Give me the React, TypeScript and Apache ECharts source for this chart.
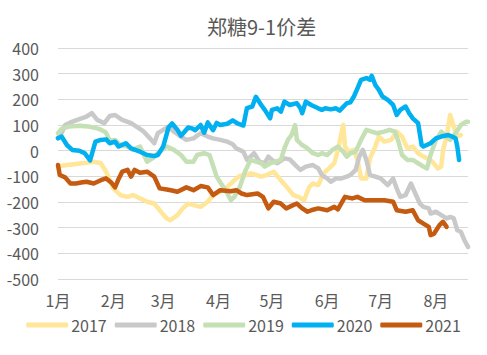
import React, { useEffect, useRef } from "react";
import * as echarts from "echarts";

const monthDays = [0, 31, 59, 90, 120, 151, 181, 212];
const monthLabels = ["1月", "2月", "3月", "4月", "5月", "6月", "7月", "8月"];
const yTicks = { min: -500, max: 400, interval: 100 };
const seriesNames = ["2017", "2018", "2019", "2020", "2021"];
const colors = ["#FFE699", "#C9C9C9", "#C5E0B4", "#00B0F0", "#C55A11"];

const s2017 = [[0,-62],[5,-56],[10,-52],[16,-47],[20,-43],[24,-49],[27,-82],[31,-147],[35,-173],[39,-180],[42,-173],[46,-186],[50,-199],[54,-206],[57,-232],[61,-264],[63,-271],[67,-251],[70,-225],[73,-206],[76,-212],[80,-219],[84,-199],[87,-173],[91,-160],[95,-141],[99,-115],[102,-98],[106,-95],[108,-88],[114,-101],[117,-95],[121,-82],[125,-115],[129,-147],[132,-173],[135,-180],[138,-193],[141,-141],[143,-128],[146,-134],[149,-88],[152,-69],[155,-49],[157,3],[160,100],[161,16],[163,-4],[166,3],[168,-36],[170,-108],[173,-108],[175,-30],[178,16],[180,55],[183,35],[187,42],[190,74],[193,55],[196,9],[199,16],[202,-10],[205,-23],[207,-30],[210,-43],[213,-69],[215,-62],[216,3],[218,55],[220,139],[222,94],[224,55],[226,61]];

const s2018 = [[0,50],[2,68],[4,100],[7,110],[10,118],[16,133],[19,146],[22,120],[26,107],[29,135],[32,139],[36,120],[41,107],[44,94],[48,75],[52,45],[54,29],[56,68],[59,81],[62,94],[65,74],[69,55],[72,42],[76,48],[80,68],[84,55],[87,48],[91,42],[95,35],[98,25],[100,9],[104,-4],[106,-36],[108,-23],[110,-10],[113,-43],[116,-49],[118,-23],[120,-36],[123,-49],[127,-30],[130,-34],[134,-62],[136,-75],[139,-62],[143,-56],[146,-69],[148,-95],[151,-108],[153,-121],[156,-108],[159,-108],[162,-101],[164,-95],[167,-75],[169,-23],[171,3],[173,-36],[175,-95],[178,-101],[181,-108],[185,-134],[188,-108],[190,-147],[192,-180],[195,-173],[198,-128],[200,-160],[203,-206],[205,-219],[208,-225],[209,-245],[212,-238],[215,-251],[218,-264],[220,-258],[222,-264],[224,-310],[226,-316],[228,-349],[230,-375]];

const s2019 = [[0,68],[2,85],[6,94],[12,97],[17,94],[20,90],[23,85],[26,75],[27,69],[29,40],[32,42],[35,22],[39,16],[42,3],[46,16],[50,-43],[53,-30],[56,-10],[61,16],[65,3],[69,-17],[72,-43],[76,-43],[78,-17],[82,-10],[85,-17],[89,-101],[92,-134],[95,-167],[97,-193],[99,-180],[102,-141],[105,-80],[108,-36],[111,-43],[114,-49],[116,-62],[119,-49],[122,-43],[125,-36],[127,9],[129,42],[131,61],[133,100],[134,42],[137,22],[140,9],[143,-10],[146,-17],[148,-10],[151,-17],[154,3],[157,16],[160,-4],[162,-23],[164,-10],[167,-4],[170,42],[173,81],[176,74],[179,68],[183,74],[186,81],[189,74],[191,35],[193,-17],[196,-36],[199,-36],[202,-49],[205,-62],[207,-69],[209,-17],[212,42],[215,74],[218,55],[220,42],[223,68],[226,100],[229,113],[230,113]];

const s2020 = [[0,48],[2,55],[5,22],[8,3],[12,0],[15,-10],[18,-38],[21,35],[24,42],[27,44],[29,29],[32,35],[34,16],[38,29],[41,9],[46,-4],[50,-17],[54,-21],[56,-17],[59,16],[62,90],[64,106],[67,81],[69,58],[71,74],[73,90],[75,87],[77,80],[80,100],[82,70],[84,110],[87,80],[89,108],[91,100],[95,105],[98,118],[101,105],[104,98],[106,166],[109,172],[111,210],[114,178],[116,159],[119,126],[120,159],[123,165],[125,152],[127,191],[130,178],[134,185],[136,165],[137,146],[139,191],[142,178],[146,165],[148,159],[150,165],[153,161],[156,165],[158,156],[162,185],[164,188],[166,211],[168,243],[170,276],[173,283],[175,276],[176,292],[178,256],[180,237],[182,211],[185,198],[188,178],[190,139],[192,159],[195,172],[197,146],[199,126],[202,107],[204,22],[205,16],[209,29],[212,48],[215,55],[219,61],[221,55],[223,48],[224,16],[225,-36]];

const s2021 = [[0,-56],[1,-95],[4,-104],[7,-128],[10,-128],[13,-124],[16,-121],[20,-128],[24,-115],[27,-108],[30,-125],[32,-143],[34,-110],[36,-82],[39,-75],[41,-101],[43,-75],[46,-86],[50,-82],[54,-101],[57,-147],[61,-151],[64,-155],[67,-160],[72,-143],[76,-154],[80,-138],[84,-143],[87,-173],[91,-154],[97,-158],[100,-154],[103,-167],[106,-173],[112,-167],[115,-180],[118,-225],[121,-199],[125,-206],[128,-225],[131,-215],[134,-206],[137,-225],[140,-238],[143,-230],[146,-225],[151,-232],[155,-219],[157,-229],[161,-180],[165,-186],[168,-180],[172,-193],[177,-193],[183,-193],[188,-199],[190,-232],[195,-238],[199,-232],[202,-271],[205,-284],[208,-297],[209,-329],[211,-323],[214,-290],[216,-277],[218,-297]];

const allSeries = [s2017, s2018, s2019, s2020, s2021];

const FONT = "'Noto Sans CJK SC', 'Noto Sans', sans-serif";
const TEXT = "#595959";

export default function App() {
  const ref = useRef<HTMLDivElement>(null);
  useEffect(() => {
    document.body.style.margin = "0";
    if (!ref.current) return;
    const chart = echarts.init(ref.current, undefined, { renderer: "svg" });
    chart.setOption({
      animation: false,
      backgroundColor: "#ffffff",
      textStyle: { fontFamily: FONT },
      title: {
        text: "郑糖9-1价差",
        left: 202,
        top: 11,
        textStyle: { fontSize: 20, fontWeight: "normal", color: TEXT, fontFamily: FONT },
      },
      grid: { left: 58, right: 19, top: 48, bottom: 76, containLabel: false },
      legend: {
        data: seriesNames,
        bottom: 17,
        left: "center",
        icon: "roundRect",
        itemWidth: 42,
        itemHeight: 5,
        itemGap: 8,
        textStyle: { fontSize: 16, color: TEXT, fontFamily: FONT, padding: [0, 0, 0, -2] },
      },
      xAxis: {
        type: "value",
        min: 0,
        max: 230,
        axisLine: { show: false },
        axisTick: { show: false },
        splitLine: { show: false },
        axisLabel: {
          customValues: monthDays,
          formatter: (v: number) => monthLabels[monthDays.indexOf(v)] ?? "",
          fontSize: 16,
          color: TEXT,
          margin: 13,
          fontFamily: FONT,
        },
      },
      yAxis: {
        type: "value",
        min: yTicks.min,
        max: yTicks.max,
        interval: yTicks.interval,
        axisLine: { show: false },
        axisTick: { show: false },
        splitLine: { lineStyle: { color: "#D9D9D9", width: 1 } },
        axisLabel: { fontSize: 16, color: TEXT, margin: 19, fontFamily: FONT },
      },
      series: allSeries.map((d, i) => ({
        name: seriesNames[i],
        type: "line",
        data: d,
        showSymbol: false,
        symbol: "none",
        color: colors[i],
        lineStyle: { width: 4.5, color: colors[i], cap: "round", join: "round" },
      })),
    });
    return () => chart.dispose();
  }, []);
  return <div ref={ref} style={{ width: 487, height: 355 }} />;
}
